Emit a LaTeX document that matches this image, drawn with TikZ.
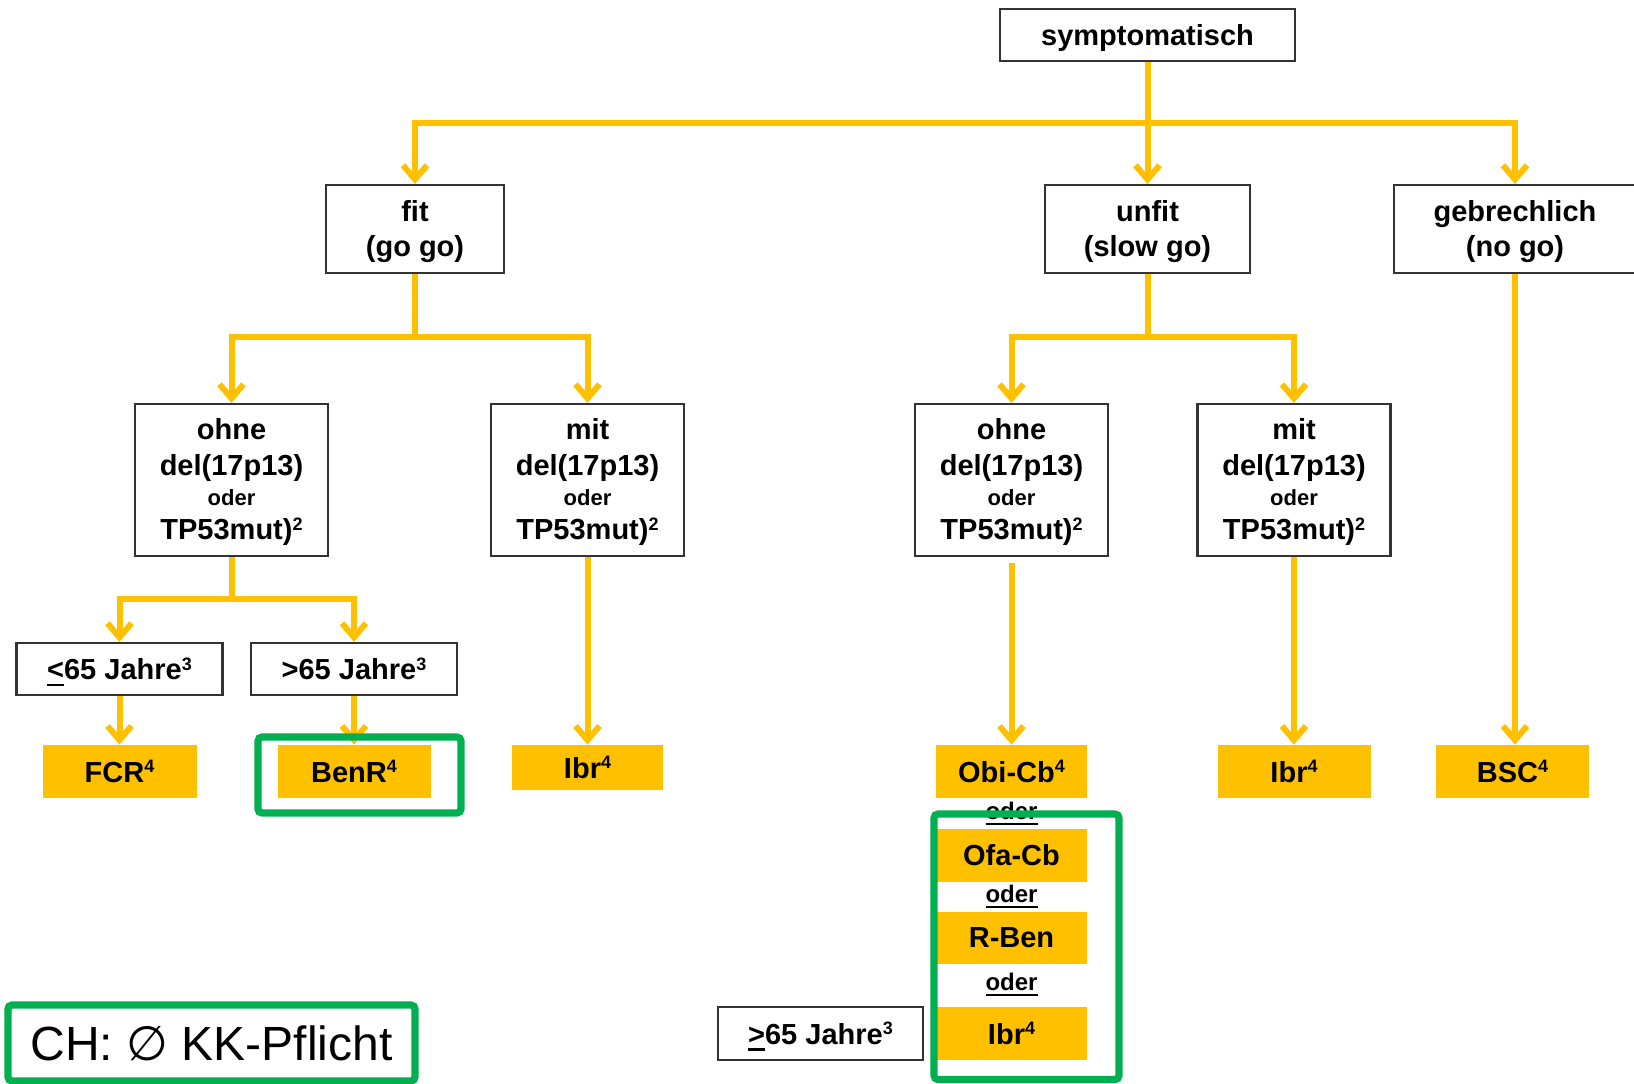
\documentclass[tikz,border=0pt]{standalone}
\usepackage{fontspec}
\setmainfont{Liberation Sans}
\newfontfamily\dejavu{DejaVu Sans}
\usetikzlibrary{arrows.meta}
\definecolor{amber}{HTML}{FFC000}
\definecolor{grn}{HTML}{00B050}
\definecolor{frame}{HTML}{333333}
\newcommand\ulsym[3]{\setbox0\hbox{#1}\rlap{\rule[#2]{\wd0}{#3}}\box0\relax}
\newcommand\sups[1]{\raisebox{4.6pt}{\fontsize{9}{9}\selectfont #1}}
\begin{document}
\begin{tikzpicture}[x=0.5pt,y=-0.5pt,
  wbox/.style={draw=frame, line width=1.1pt, fill=white, inner sep=0pt, align=center, font=\fontsize{14.5}{17.5}\selectfont\bfseries},
  dbox/.style={wbox, minimum width=96.5pt, minimum height=76pt, font=\fontsize{14.5}{16.5}\selectfont\bfseries},
  obox/.style={fill=amber, inner sep=0pt, align=center, font=\fontsize{14.5}{17}\selectfont\bfseries},
  conn/.style={draw=amber, line width=3pt},
  arr/.style={conn, -{Straight Barb[length=7pt,width=12pt]}},
  orlabel/.style={inner sep=0pt, font=\fontsize{12}{13}\selectfont\bfseries},
  gframe/.style={draw=grn, line width=3.6pt, rounded corners=2pt}
]
\useasboundingbox (0,0) rectangle (1634,1083);
\fill[white] (0,0) rectangle (1634,1083);

% level 0/1
\node[wbox, minimum width=147.5pt, minimum height=26pt] (sym) at (1147.5,35) {\rule{0pt}{13.3pt}symptomatisch};
\node[wbox, minimum width=89pt, minimum height=44pt] (fit) at (415,229) {\rule{0pt}{13.3pt}fit\\(go go)};
\node[wbox, minimum width=102.5pt, minimum height=44pt] (unfit) at (1147.5,229) {\rule{0pt}{13.3pt}unfit\\(slow go)};
\node[wbox, minimum width=121pt, minimum height=44pt] (geb) at (1515,229) {\rule{0pt}{13.3pt}gebrechlich\\(no go)};

% level 2
\node[dbox] (ohne1) at (231.5,480)
  {\rule{0pt}{12.3pt}ohne\\[1.5pt]del(17p13)\\[-1.6pt]{\fontsize{11}{13}\selectfont oder}\\[0.6pt]TP53mut)\sups{2}};
\node[dbox] (mit1) at (587.5,480)
  {\rule{0pt}{12.3pt}mit\\[1.5pt]del(17p13)\\[-1.6pt]{\fontsize{11}{13}\selectfont oder}\\[0.6pt]TP53mut)\sups{2}};
\node[dbox] (ohne2) at (1011.5,480)
  {\rule{0pt}{12.3pt}ohne\\[1.5pt]del(17p13)\\[-1.6pt]{\fontsize{11}{13}\selectfont oder}\\[0.6pt]TP53mut)\sups{2}};
\node[dbox] (mit2) at (1294,480)
  {\rule{0pt}{12.3pt}mit\\[1.5pt]del(17p13)\\[-1.6pt]{\fontsize{11}{13}\selectfont oder}\\[0.6pt]TP53mut)\sups{2}};

% age boxes
\node[wbox, minimum width=103pt, minimum height=26pt] (le65) at (119.5,669) {\rule{0pt}{14pt}\ulsym{<}{-3.4pt}{1.4pt}65 Jahre\sups{3}};
\node[wbox, minimum width=103pt, minimum height=26pt] (gt65) at (354,669) {>65 Jahre\sups{3}};
\node[wbox, minimum width=102.5pt, minimum height=26.5pt] (ge65) at (820.5,1033.5) {\rule{0pt}{14pt}\ulsym{>}{-3.4pt}{1.4pt}65 Jahre\sups{3}};

% therapy boxes
\node[obox, minimum width=77pt, minimum height=26.5pt] (FCR) at (119.5,771.5) {FCR\sups{4}};
\node[obox, minimum width=76.5pt, minimum height=26.5pt] (BenR) at (354,771.5) {BenR\sups{4}};
\node[obox, minimum width=75.5pt, minimum height=22.5pt] (Ibr1) at (587.5,767.5) {Ibr\sups{4}};
\node[obox, minimum width=75.5pt, minimum height=26.5pt] (Obi) at (1011.5,771.5) {Obi-Cb\sups{4}};
\node[orlabel] (or1) at (1011.5,811) {\rule{0pt}{11.2pt}\ulsym{oder}{-2.4pt}{1pt}};
\node[obox, minimum width=75.5pt, minimum height=26.5pt] (Ofa) at (1011.5,855.5) {Ofa-Cb};
\node[orlabel] (or2) at (1011.5,894) {\rule{0pt}{11.2pt}\ulsym{oder}{-2.4pt}{1pt}};
\node[obox, minimum width=75.5pt, minimum height=26pt] (RBen) at (1011.5,938) {R-Ben};
\node[orlabel] (or3) at (1011.5,982) {\rule{0pt}{11.2pt}\ulsym{oder}{-2.4pt}{1pt}};
\node[obox, minimum width=75.5pt, minimum height=26.5pt] (Ibr3) at (1011.5,1033.5) {Ibr\sups{4}};
\node[obox, minimum width=76.5pt, minimum height=26.5pt] (Ibr2) at (1294,771.5) {Ibr\sups{4}};
\node[obox, minimum width=76.5pt, minimum height=26.5pt] (BSC) at (1512.5,771.5) {BSC\sups{4}};

% connectors
\coordinate (j0) at (1147.5,123);
\draw[conn] (sym.south) -- (j0);
\draw[arr] (j0) -| (fit.north);
\draw[arr] (j0) -- (unfit.north);
\draw[arr] (j0) -| (geb.north);

\coordinate (j1) at (415,337);
\draw[conn] (fit.south) -- (j1);
\draw[arr] (j1) -| (ohne1.north);
\draw[arr] (j1) -| (mit1.north);

\coordinate (j2) at (1147.5,337);
\draw[conn] (unfit.south) -- (j2);
\draw[arr] (j2) -| (ohne2.north);
\draw[arr] (j2) -| (mit2.north);

\coordinate (j3) at (231.5,599);
\draw[conn] (ohne1.south) -- (j3);
\draw[arr] (j3) -| (le65.north);
\draw[arr] (j3) -| (gt65.north);

\draw[arr] (le65.south) -- (FCR.north);
\draw[arr] (gt65.south) -- (BenR.north);
\draw[arr] (mit1.south) -- (Ibr1.north);
\draw[arr] ([yshift=-3pt]ohne2.south) -- (Obi.north);
\draw[arr] (mit2.south) -- (Ibr2.north);
\draw[arr] (geb.south) -- (geb.south |- BSC.north);

% green highlight frames
\draw[gframe] (258,737) rectangle (461,813);
\draw[gframe] (934,814) rectangle (1119,1079.5);
\node[draw=grn, line width=3.6pt, rounded corners=2pt, minimum width=203.5pt, minimum height=38pt,
      inner sep=0pt, font=\fontsize{24}{28}\selectfont] (ch) at (211.5,1043)
  {CH: {\dejavu ∅} KK-Pflicht};
\end{tikzpicture}
\end{document}
